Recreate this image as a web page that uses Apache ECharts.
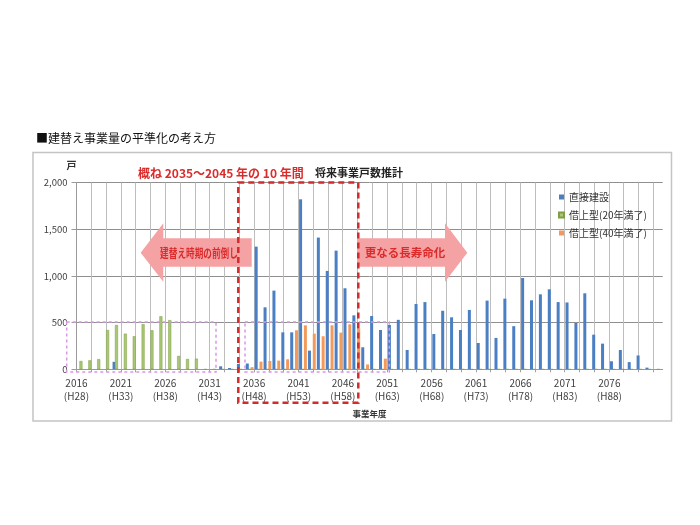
<!DOCTYPE html>
<html><head><meta charset="utf-8">
<script src="https://cdn.jsdelivr.net/npm/echarts@6/dist/echarts.min.js"></script>
<style>html,body{margin:0;padding:0;background:#fff}#c{width:700px;height:525px}</style>
</head><body><div id="c"></div>
<script>
const years = [2016,2017,2018,2019,2020,2021,2022,2023,2024,2025,
  2026,2027,2028,2029,2030,2031,2032,2033,2034,2035,
  2036,2037,2038,2039,2040,2041,2042,2043,2044,2045,
  2046,2047,2048,2049,2050,2051,2052,2053,2054,2055,
  2056,2057,2058,2059,2060,2061,2062,2063,2064,2065,
  2066,2067,2068,2069,2070,2071,2072,2073,2074,2075,
  2076,2077,2078,2079,2080,2081];
const direct = [0,0,0,0,80,0,0,0,0,0,
  0,0,0,0,0,0,32,14,57,62,
  1314,664,843,396,396,1821,200,1411,1054,1271,
  868,578,236,571,421,475,530,207,700,720,
  378,627,557,421,636,282,736,336,757,462,
  978,739,803,857,720,716,496,814,371,275,
  86,207,77,148,18,0];
const lease20 = [89,96,109,421,475,382,354,484,418,568,
  527,143,111,114,0,0,0,0,0,0,
  0,0,0,0,0,0,0,0,0,0,
  0,0,0,0,0,0,0,0,0,0,
  0,0,0,0,0,0,0,0,0,0,
  0,0,0,0,0,0,0,0,0,0,
  0,0,0,0,0,0];
const lease40 = [0,0,0,0,0,0,0,0,0,0,
  0,0,0,0,0,0,0,0,0,23,
  82,89,93,107,418,471,382,354,471,393,
  482,437,52,0,114,0,0,0,0,0,
  0,0,0,0,0,0,0,0,0,0,
  0,0,0,0,0,0,0,0,0,0,
  0,0,0,0,0,0];
const tickYears = [2016,2021,2026,2031,2036,2041,2046,2051,2056,2061,2066,2071,2076];
const tickEras  = ['H28','H33','H38','H43','H48','H53','H58','H63','H68','H73','H78','H83','H88'];
const seriesNames = ['直接建設','借上型(20年満了)','借上型(40年満了)'];
const yTicks = [0,500,1000,1500,2000];

const FONT = "'Noto Sans CJK JP', 'Noto Sans', sans-serif";
const chart = echarts.init(document.getElementById('c'), null, {renderer:'canvas'});
const red = '#dc2b2b';
const pink = '#f5a2a4';

chart.setOption({
  backgroundColor:'#fff',
  animation:false,
  textStyle:{fontFamily:FONT},
  title:[
    {text:'■建替え事業量の平準化の考え方', left:31, top:127, textStyle:{fontSize:12, fontWeight:'normal', color:'#111', fontFamily:FONT}},
    {text:'概ね 2035～2045 年の 10 年間', left:133, top:162, textStyle:{fontSize:12, fontWeight:'bold', color:red, fontFamily:FONT}},
    {text:'将来事業戸数推計', left:310, top:162, textStyle:{fontSize:11, fontWeight:'bold', color:'#222', fontFamily:FONT}}
  ],
  legend:{
    orient:'vertical', left:553, top:187, itemWidth:5, itemHeight:5, itemGap:8,
    icon:'rect', data:seriesNames,
    textStyle:{fontSize:10, color:'#333', fontFamily:FONT}
  },
  grid:[
    {left:76.5, right:37.3, top:182.6, bottom:155.7},
    {left:76.5, right:46.7, top:182.6, bottom:155.7}
  ],
  xAxis:[
    {type:'category', gridIndex:0, data:years, boundaryGap:true,
     axisLine:{lineStyle:{color:'#9a9a9a'}}, axisTick:{show:false},
     name:'事業年度', nameLocation:'middle', nameGap:40,
     nameTextStyle:{fontSize:8.5, fontWeight:'bold', color:'#333', fontFamily:FONT},
     axisLabel:{
       interval:(i)=>tickYears.indexOf(years[i])>=0,
       formatter:(v)=>{const k=tickYears.indexOf(+v); return k>=0? v+'\n('+tickEras[k]+')':'';},
       fontSize:10, lineHeight:13, color:'#404040', margin:7, padding:[0,9,0,0], fontFamily:FONT
     }},
    {type:'value', gridIndex:1, min:0, max:39, interval:1,
     axisLine:{show:false}, axisLabel:{show:false},
     axisTick:{show:true, length:3, lineStyle:{color:'#a0a0a0'}},
     splitLine:{show:true, lineStyle:{color:'#bdbdbd', width:1}}}
  ],
  yAxis:[
    {type:'value', gridIndex:0, min:yTicks[0], max:yTicks[yTicks.length-1], interval:500,
     name:'戸', nameLocation:'end', nameGap:12,
     nameTextStyle:{align:'right', fontSize:10, fontWeight:'bold', color:'#333', fontFamily:FONT},
     axisLine:{show:true, lineStyle:{color:'#9a9a9a'}},
     axisTick:{show:true, length:5, lineStyle:{color:'#9a9a9a'}},
     splitLine:{lineStyle:{color:'#8f8f8f', width:1}},
     axisLabel:{formatter:(v)=>v.toLocaleString('en-US'), fontSize:9.5, color:'#404040', margin:9, fontFamily:FONT}},
    {type:'value', gridIndex:1, show:false, min:0, max:1}
  ],
  series:[
    {name:seriesNames[0], type:'bar', xAxisIndex:0, yAxisIndex:0, data:direct, barWidth:3, barGap:'-20%',
     itemStyle:{color:'#4a7fc4'}},
    {name:seriesNames[1], type:'bar', xAxisIndex:0, yAxisIndex:0, data:lease20, barWidth:3, barGap:'-20%',
     itemStyle:{color:'#a9c774', borderColor:'#7f9e45', borderWidth:0.5}},
    {name:seriesNames[2], type:'bar', xAxisIndex:0, yAxisIndex:0, data:lease40, barWidth:3, barGap:'-20%',
     itemStyle:{color:'#f29a5c'}}
  ],
  graphic:[
    {type:'rect', z:50, silent:true, shape:{x:33, y:152.5, width:638.5, height:268.5},
     style:{fill:'none', stroke:'#c4c4c4', lineWidth:1.5}},
    {type:'polygon', z:60, silent:true,
     shape:{points:[[140.7,252.7],[163.3,223.3],[163.3,238.3],[251.7,238.3],[251.7,266.7],[163.3,266.7],[163.3,281.7]]},
     style:{fill:pink}},
    {type:'polygon', z:60, silent:true,
     shape:{points:[[357.3,238.3],[445,238.3],[445,223.3],[467.3,252.7],[445,281.7],[445,266.7],[357.3,266.7]]},
     style:{fill:pink}},
    {type:'text', z:70, silent:true, x:199, y:253, scaleX:0.72,
     style:{text:'建替え時期の前倒し', x:0, y:0, align:'center', verticalAlign:'middle',
            font:'bold 12px '+FONT, fill:red}},
    {type:'text', z:70, silent:true, x:405, y:253,
     style:{text:'更なる長寿命化', x:0, y:0, align:'center', verticalAlign:'middle',
            font:'bold 11.5px '+FONT, fill:red}},
    {type:'rect', z:80, silent:true, shape:{x:66.7, y:322, width:149.3, height:50},
     style:{fill:'none', stroke:'#d996e6', lineWidth:1.5, lineDash:[3,3]}},
    {type:'rect', z:80, silent:true, shape:{x:245, y:322, width:144.3, height:50},
     style:{fill:'none', stroke:'#d996e6', lineWidth:1.5, lineDash:[3,3]}},
    {type:'rect', z:90, silent:true, shape:{x:238.3, y:182.5, width:120, height:220.2},
     style:{fill:'none', stroke:'#d42a2a', lineWidth:2.5, lineDash:[6,4]}}
  ]
});
</script></body></html>
